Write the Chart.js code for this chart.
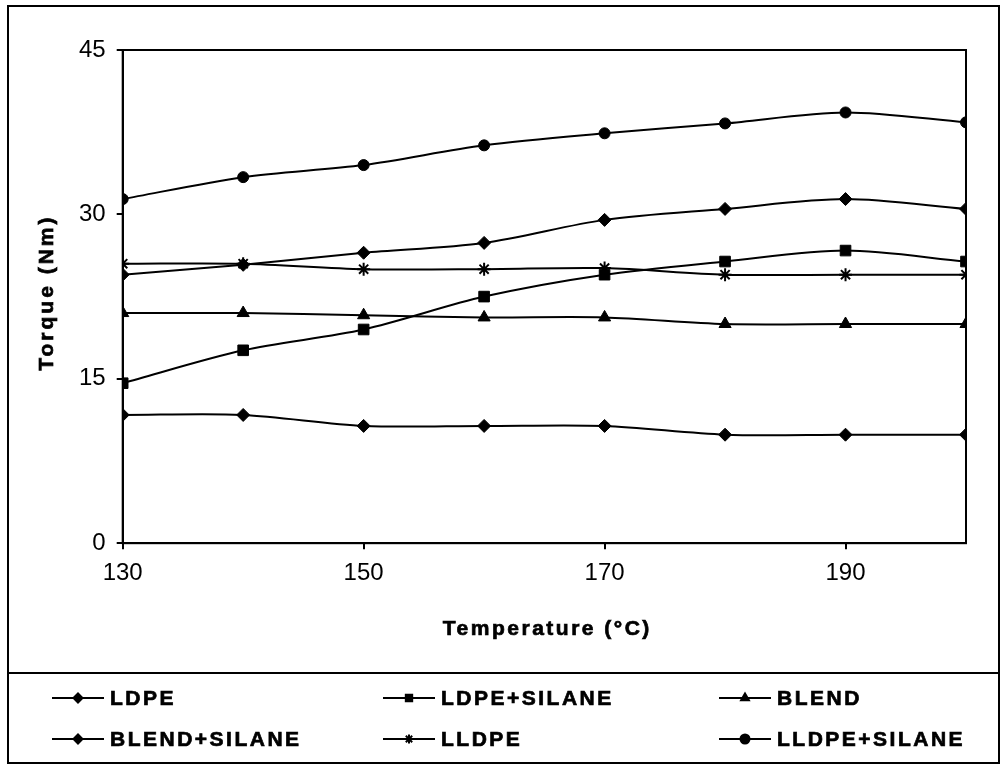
<!DOCTYPE html>
<html>
<head>
<meta charset="utf-8">
<script src="https://cdn.jsdelivr.net/npm/chart.js@4/dist/chart.umd.min.js"></script>
<style>
  html, body { margin: 0; padding: 0; background: #fff; }
  #wrap { width: 1002px; height: 769px; position: relative; }
</style>
</head>
<body>
<div id="wrap"><canvas id="torqueChart"></canvas></div>
<script>
// temperatures (°C) and torque readings (Nm)
const temps = [130, 140, 150, 160, 170, 180, 190, 200];
const ldpe = [11.7, 11.7, 10.7, 10.7, 10.7, 9.9, 9.9, 9.9];
const ldpeSilane = [14.6, 17.6, 19.5, 22.5, 24.5, 25.7, 26.7, 25.7];
const blend = [21.0, 21.0, 20.8, 20.6, 20.6, 20.0, 20.0, 20.0];
const blendSilane = [24.5, 25.4, 26.5, 27.4, 29.5, 30.5, 31.4, 30.5];
const lldpe = [25.5, 25.5, 25.0, 25.0, 25.1, 24.5, 24.5, 24.5];
const lldpeSilane = [31.4, 33.4, 34.5, 36.3, 37.4, 38.3, 39.3, 38.4];
const xTicks = [130, 150, 170, 190];
const yTicks = [0, 15, 30, 45];

const FONT = "'Liberation Sans', Arial, sans-serif";

function series(label, values, style, radius) {
  return {
    label: label,
    data: values.map((v, i) => ({ x: temps[i], y: v })),
    borderColor: '#000',
    backgroundColor: '#000',
    borderWidth: 2,
    tension: 0.3,
    pointStyle: style,
    pointRadius: radius,
    pointBorderWidth: style === 'star' ? 2 : 1,
    pointBackgroundColor: '#000',
    pointBorderColor: '#000'
  };
}

// heavy text: fill plus a thin stroke, like the scanned original
function heavyText(ctx, text, x, y) {
  ctx.fillText(text, x, y);
  ctx.lineWidth = 0.7;
  ctx.strokeText(text, x, y);
}

// frame, plot box, axis titles and the boxed legend underneath
const framePlugin = {
  id: 'frame',
  afterDraw(chart) {
    const ctx = chart.ctx;
    const a = chart.chartArea;
    ctx.save();
    ctx.strokeStyle = '#000';
    ctx.fillStyle = '#000';
    ctx.lineWidth = 2;
    ctx.strokeRect(a.left, a.top, a.right - a.left, a.bottom - a.top);
    ctx.strokeRect(8, 6, 991, 757);
    ctx.beginPath();
    ctx.moveTo(8, 673);
    ctx.lineTo(999, 673);
    ctx.stroke();

    // axis titles
    ctx.font = 'bold 21px ' + FONT;
    ctx.letterSpacing = '2.5px';
    ctx.textAlign = 'center';
    ctx.textBaseline = 'alphabetic';
    heavyText(ctx, 'Temperature (°C)', (a.left + a.right) / 2 + 3, 635);
    ctx.save();
    ctx.translate(53, (a.top + a.bottom) / 2 - 4);
    ctx.rotate(-Math.PI / 2);
    ctx.letterSpacing = '3px';
    heavyText(ctx, 'Torque (Nm)', 0, 0);
    ctx.restore();

    // legend, 3 columns x 2 rows
    const cols = [52, 383, 719];
    const rows = [705, 746];
    ctx.textAlign = 'left';
    chart.data.datasets.forEach((ds, i) => {
      const x = cols[i % 3];
      const y = rows[Math.floor(i / 3)];
      const my = y - 7;
      ctx.lineWidth = 2;
      ctx.beginPath();
      ctx.moveTo(x, my);
      ctx.lineTo(x + 52, my);
      ctx.stroke();
      Chart.helpers.drawPoint(ctx, {
        pointStyle: ds.pointStyle,
        radius: 4.5,
        rotation: 0,
        borderWidth: ds.pointBorderWidth
      }, x + 26, my);
      heavyText(ctx, ds.label, x + 58, y);
    });
    ctx.restore();
  }
};

new Chart(document.getElementById('torqueChart'), {
  type: 'line',
  data: {
    datasets: [
      series('LDPE', ldpe, 'rectRot', 6.5),
      series('LDPE+SILANE', ldpeSilane, 'rect', 7.5),
      series('BLEND', blend, 'triangle', 7),
      series('BLEND+SILANE', blendSilane, 'rectRot', 6.5),
      series('LLDPE', lldpe, 'star', 6.5),
      series('LLDPE+SILANE', lldpeSilane, 'circle', 5.5)
    ]
  },
  options: {
    responsive: true,
    maintainAspectRatio: false,
    animation: false,
    layout: { padding: { left: 68, right: 36, top: 50, bottom: 171 } },
    scales: {
      x: {
        type: 'linear',
        min: 130,
        max: 200,
        afterBuildTicks(axis) { axis.ticks = xTicks.map(v => ({ value: v })); },
        grid: { display: true, drawOnChartArea: false, color: '#000', tickLength: 6, lineWidth: 2 },
        border: { display: true, color: '#000', width: 2 },
        ticks: { color: '#000', font: { family: FONT, size: 24 }, padding: 10, maxRotation: 0 },
        title: { display: false }
      },
      y: {
        min: 0,
        max: 45,
        afterBuildTicks(axis) { axis.ticks = yTicks.map(v => ({ value: v })); },
        grid: { display: true, drawOnChartArea: false, color: '#000', tickLength: 6, lineWidth: 2 },
        border: { display: true, color: '#000', width: 2 },
        ticks: { color: '#000', font: { family: FONT, size: 24 }, padding: 11 },
        title: { display: false }
      }
    },
    plugins: {
      legend: { display: false },
      tooltip: { enabled: false }
    }
  },
  plugins: [framePlugin]
});
</script>
</body>
</html>
